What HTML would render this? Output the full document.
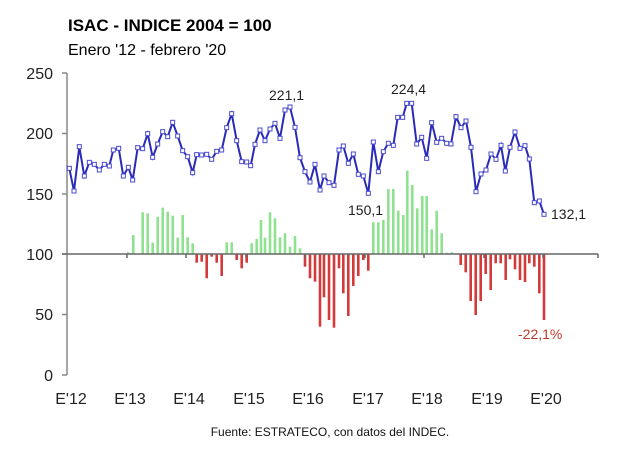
<!DOCTYPE html>
<html><head><meta charset="utf-8"><style>
body{margin:0;background:#fff;}
svg{display:block;font-family:"Liberation Sans",Arial,sans-serif;}
</style></head><body>
<svg id="c" width="640" height="449" viewBox="0 0 640 449">
<text x="68" y="31" font-size="17" font-weight="bold" fill="#000">ISAC - INDICE 2004 = 100</text>
<text x="68" y="55" font-size="16" fill="#000">Enero '12 - febrero '20</text>
<g font-size="16" fill="#222" text-anchor="end">
<text x="53" y="79">250</text><text x="53" y="139">200</text><text x="53" y="200">150</text>
<text x="53" y="260">100</text><text x="53" y="320">50</text><text x="53" y="381">0</text>
</g>
<g stroke="#888" stroke-width="1.5">
<line x1="67" y1="73" x2="67" y2="375"/>
<line x1="62" y1="73" x2="67" y2="73"/><line x1="62" y1="133.5" x2="67" y2="133.5"/>
<line x1="62" y1="194" x2="67" y2="194"/><line x1="62" y1="254" x2="67" y2="254"/>
<line x1="62" y1="314.5" x2="67" y2="314.5"/><line x1="62" y1="375" x2="67" y2="375"/>
</g>
<g id="bars"></g>
<g stroke="#666" stroke-width="1.5">
<line x1="62" y1="254" x2="598" y2="254"/>
<line x1="127" y1="254" x2="127" y2="258"/><line x1="186" y1="254" x2="186" y2="258"/>
<line x1="246" y1="254" x2="246" y2="258"/><line x1="305" y1="254" x2="305" y2="258"/>
<line x1="365" y1="254" x2="365" y2="258"/><line x1="424" y1="254" x2="424" y2="258"/>
<line x1="484" y1="254" x2="484" y2="258"/><line x1="543" y1="254" x2="543" y2="258"/>
<line x1="598" y1="254" x2="598" y2="258"/>
</g>
<g id="line"></g>
<g font-size="16" fill="#222" text-anchor="middle">
<text x="71" y="404">E'12</text><text x="130" y="404">E'13</text><text x="189" y="404">E'14</text>
<text x="249" y="404">E'15</text><text x="308" y="404">E'16</text><text x="368" y="404">E'17</text>
<text x="427" y="404">E'18</text><text x="487" y="404">E'19</text><text x="546" y="404">E'20</text>
</g>
<g font-size="14" fill="#222">
<text x="269" y="100">221,1</text>
<text x="391" y="94">224,4</text>
<text x="348" y="215">150,1</text>
<text x="551" y="219">132,1</text>
<text x="518" y="339" fill="#c0392b">-22,1%</text>
</g>
<text x="330" y="436" font-size="12" fill="#111" text-anchor="middle">Fuente: ESTRATECO, con datos del INDEC.</text>
</svg>
<script>
var z1=[[28,325],[42,393],[58,260],[73,348],[88,307],[103,313],[118,330],[133,313],[148,318],[160,270],[176,265],[190,348],[205,322],[218,360],[233,263],[248,266],[263,221],[278,292],[293,252],[308,215],[323,230],[338,187],[353,228],[368,272],[383,290],[398,338],[410,284],[425,285],[440,283],[455,298],[470,274],[485,270],[500,203],[515,161],[530,242],[545,305],[560,306],[572,317],[585,253],[600,210],[615,242],[630,207],[645,190],[660,235],[675,150],[690,141],[705,202],[720,293],[735,335],[750,366],[765,313]];
var z2=[[0,390],[12,348],[27,368],[42,376],[57,270],[70,258],[85,310],[100,282],[115,343],[130,348],[145,400],[160,246],[175,335],[190,275],[205,250],[220,256],[233,172],[248,172],[260,130],[275,130],[290,252],[305,232],[320,295],[335,188],[350,247],[365,235],[380,250],[393,252],[408,170],[423,203],[438,183],[453,262],[468,395],[483,342],[498,330],[513,282],[528,298],[543,256],[556,333],[570,262],[585,216],[600,265],[615,257],[628,297],[643,428],[658,423],[672,463]];
var pts=z1.map(p=>[60+p[0]/3,60+p[1]/3]).concat(z2.map(p=>[320+p[0]/3,60+p[1]/3]));
var s='<polyline fill="none" stroke="#2a2ab8" stroke-width="2" points="'+pts.map(p=>p[0].toFixed(1)+','+p[1].toFixed(1)).join(' ')+'"/>';
pts.forEach(p=>{s+='<rect x="'+(p[0]-2)+'" y="'+(p[1]-2)+'" width="4" height="4" fill="#fff" stroke="#4a4ad0" stroke-width="1"/>';});
document.getElementById('line').innerHTML=s;
var b1=[[205,577],[220,525],[248,457],[263,460],[278,548],[293,470],[308,443],[323,455],[338,467],[353,533],[368,465],[383,532],[398,550],[410,608],[425,605],[440,655],[455,590],[470,608],[485,648],[500,547],[515,547],[530,600],[545,625],[560,608],[575,550],[590,537],[603,480],[615,533],[630,457],[645,475],[660,532],[675,520],[690,560],[705,528],[720,565],[735,620],[750,655],[765,665]];
var b2=[[0,800],[12,712],[27,780],[42,803],[57,625],[70,700],[85,768],[100,678],[115,648],[130,600],[145,632],[160,487],[175,487],[190,480],[205,387],[220,387],[235,452],[250,465],[262,332],[277,375],[292,445],[307,408],[320,408],[335,508],[350,452],[365,520],[380,578],[395,577],[410,582],[422,615],[437,637],[452,723],[467,765],[482,723],[497,642],[512,690],[527,610],[542,610],[557,660],[570,598],[585,628],[600,660],[615,666],[628,610],[643,620],[658,700],[672,780]];
var bars=b1.map(p=>[60+p[0]/3,60+p[1]/3]).concat(b2.map(p=>[320+p[0]/3,60+p[1]/3]));
var t='';
bars.forEach(p=>{var y=p[1],base=254;var up=y<base;var h=Math.abs(base-y);if(h<0.5)h=0.5;
t+='<rect x="'+(p[0]-1.3).toFixed(1)+'" y="'+(up?y:base).toFixed(1)+'" width="2.6" height="'+h.toFixed(1)+'" fill="'+(up?'#8fe28f':'#d43a3a')+'"/>';});
document.getElementById('bars').innerHTML=t;
</script>
</body></html>
